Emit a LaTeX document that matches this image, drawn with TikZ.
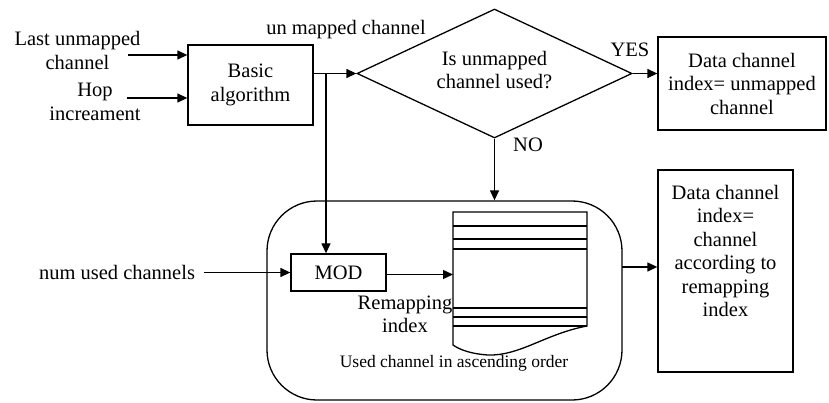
\documentclass[tikz,border=0pt]{standalone}
\usepackage{fontspec}
\setmainfont{Liberation Serif}
\usetikzlibrary{arrows.meta,shapes.geometric}
\begin{document}
\begin{tikzpicture}[x=1pt,y=-1pt,line width=1.3pt,
  >={Triangle[length=10pt,width=9pt]},
  txt/.style={font=\fontsize{20.5}{23.5}\selectfont,align=center,inner sep=0pt},
  box/.style={draw,txt},
  small/.style={font=\fontsize{17.5}{21}\selectfont,inner sep=0pt}]
\useasboundingbox (0,0) rectangle (829,403);

% boxes
\node[box,minimum width=125pt,minimum height=80pt] (basic) at (250.5,85) {Basic\\algorithm};
\node[draw,diamond,aspect=2.13,minimum width=275pt,minimum height=129pt,inner sep=0pt] (dec) at (494.5,73.5) {};
\node[txt] (dect) at (494.5,70) {Is unmapped\\channel used?};
\node[box,minimum width=168pt,minimum height=93pt] (out1) at (742,83.5) {Data channel\\index= unmapped\\channel};
\node[draw,minimum width=135pt,minimum height=202pt,inner sep=0pt] (out2) at (725.5,271) {};
\node[txt] (out2t) at (725.5,251) {Data channel\\index=\\channel\\according to\\remapping\\index};
\node[draw,rounded corners=50pt,minimum width=355pt,minimum height=199pt,inner sep=0pt] (group) at (444.5,300.5) {};
\node[box,minimum width=95pt,minimum height=37pt] (mod) at (338.5,272.5) {MOD};

% document shape
\draw (453,212) -- (587,212) -- (587,326)
  .. controls (545,334) and (520,356) .. (488,355)
  .. controls (472,354) and (460,350) .. (453,345) -- cycle;
\foreach \yy in {226,239,249,308,317,326} \draw (453,\yy) -- (587,\yy);
\coordinate (docw) at (453,274.5);

% labels
\node[txt] (lastl) at (77.5,50.5) {Last unmapped\\channel};
\node[txt] (hopl) at (95,102) {Hop\\increament};
\node[txt] (numl) at (117,272.5) {num used channels};
\node[txt] (unm) at (346,30) {un mapped channel};
\node[txt] (yes) at (630,50) {YES};
\node[txt] (no) at (528,145) {NO};
\node[txt] (remap) at (405,314.5) {Remapping\\index};
\node[small] (used) at (454,363) {Used channel in ascending order};

% connectors
\coordinate (in1) at (128,55);
\coordinate (in2) at (127,98);
\draw[->] (in1) -- (in1 -| basic.west);
\draw[->] (in2) -- (in2 -| basic.west);
\coordinate (br) at (326,73.5);
\draw[->] (dec.west -| basic.east) -- (dec.west);
\draw[->] (br) -- (br |- mod.north);
\draw[->] (dec.east) -- (dec.east -| out1.west);
\draw[->] (dec.south) -- (dec.south |- group.north);
\draw[->] ([xshift=8pt]numl.east) -- (mod.west);
\draw[->] (mod.east |- docw) -- (docw);
\coordinate (g2) at (622,267);
\draw[->] (g2) -- (g2 -| out2.west);
\end{tikzpicture}
\end{document}
